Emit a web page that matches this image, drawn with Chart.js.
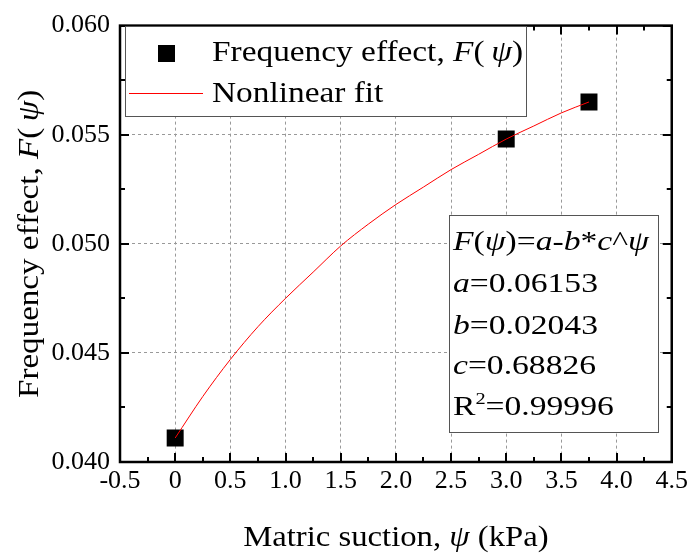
<!DOCTYPE html>
<html lang="en">
<head>
  <meta charset="UTF-8" />
  <title>Frequency effect vs matric suction</title>
  <script src="https://cdn.jsdelivr.net/npm/chart.js"></script>
  <style>
    html, body { margin: 0; padding: 0; background: #fff; font-family: "Liberation Serif", serif; }
    #wrap { width: 692px; height: 554px; }
    .preload { position: absolute; left: -999px; top: 0; }
  </style>
</head>
<body>
  <div id="wrap"><canvas id="chart" width="692" height="554"></canvas></div>
  <span class="preload">0.05 <i>F(ψ)</i></span>

  <script>
    // measured points
    const suction = [0, 3.0, 3.75];
    const freqEffect = [0.0411, 0.0548, 0.0565];

    // fit curve
    const fitX = [0, 0.25, 0.5, 0.75, 1.0, 1.25, 1.5, 1.75, 2.0, 2.25, 2.5, 2.75, 3.0, 3.25, 3.5, 3.75];
    const fitY = [0.0411, 0.0430, 0.0447, 0.0462, 0.0475, 0.0487, 0.0499, 0.0509, 0.0518, 0.0526, 0.0534, 0.0541, 0.0548, 0.0554, 0.0560, 0.0565];

    // fit parameter text; 1 = italic, 2 = superscript
    const fitText = [
      [['F', 1], ['(', 0], ['ψ', 1], [')=', 0], ['a', 1], ['-', 0], ['b', 1], ['*', 0], ['c', 1], ['^', 0], ['ψ', 1]],
      [['a', 1], ['=0.06153', 0]],
      [['b', 1], ['=0.02043', 0]],
      [['c', 1], ['=0.68826', 0]],
      [['R', 0], ['2', 2], ['=0.99996', 0]]
    ];

    const SERIF = '"Liberation Serif", "Times New Roman", serif';

    function fontFor(style, size) {
      if (style === 2) return Math.round(size * 0.62) + 'px ' + SERIF;
      return (style ? 'italic ' : '') + size + 'px ' + SERIF;
    }

    function runsWidth(ctx, runs, size) {
      let w = 0;
      for (const [t, s] of runs) { ctx.font = fontFor(s, size); w += ctx.measureText(t).width; }
      return w;
    }

    // draws text runs, stretched horizontally by sx
    function drawRuns(ctx, runs, x, y, size, sx) {
      ctx.save();
      ctx.translate(x, y);
      ctx.scale(sx, 1);
      ctx.textBaseline = 'middle';
      ctx.textAlign = 'left';
      let cx = 0;
      for (const [t, s] of runs) {
        ctx.font = fontFor(s, size);
        ctx.fillText(t, cx, s === 2 ? -size * 0.32 : 0);
        cx += ctx.measureText(t).width;
      }
      ctx.restore();
    }

    const decor = {
      id: 'decor',
      afterDatasetsDraw(chart) {
        const ctx = chart.ctx;
        const a = chart.chartArea;
        const xs = chart.scales.x, ys = chart.scales.y;
        ctx.save();
        ctx.fillStyle = '#000';
        ctx.strokeStyle = '#000';

        // inward ticks on all four sides
        ctx.lineWidth = 2;
        ctx.beginPath();
        for (let i = 0; i <= 20; i++) {
          const px = Math.round(xs.getPixelForValue(-0.5 + i * 0.25));
          const len = i % 2 === 0 ? 9 : 5;
          ctx.moveTo(px, a.bottom); ctx.lineTo(px, a.bottom - len);
          ctx.moveTo(px, a.top); ctx.lineTo(px, a.top + len);
        }
        for (let i = 0; i <= 8; i++) {
          const py = Math.round(ys.getPixelForValue(0.04 + i * 0.0025));
          const len = i % 2 === 0 ? 9 : 5;
          ctx.moveTo(a.left, py); ctx.lineTo(a.left + len, py);
          ctx.moveTo(a.right, py); ctx.lineTo(a.right - len, py);
        }
        ctx.stroke();
        ctx.lineWidth = 2.5;
        ctx.strokeRect(a.left, a.top, a.right - a.left, a.bottom - a.top);

        // legend
        ctx.fillStyle = '#fff';
        ctx.fillRect(125, 26, 401, 90);
        ctx.lineWidth = 1;
        ctx.strokeStyle = '#555';
        ctx.strokeRect(125.5, 26.5, 401, 90);
        ctx.fillStyle = '#000';
        ctx.fillRect(158, 45, 17, 17);
        ctx.strokeStyle = '#ff0000';
        ctx.beginPath();
        ctx.moveTo(129, 93.5); ctx.lineTo(203, 93.5);
        ctx.stroke();
        const legendRuns = [['Frequency effect, ', 0], ['F', 1], ['(\u2009', 0], ['ψ', 1], [')', 0]];
        drawRuns(ctx, legendRuns, 212, 53, 29, 1.15);
        drawRuns(ctx, [['Nonlinear fit', 0]], 212, 94, 29, 1.15);

        // fit parameters box
        ctx.fillStyle = '#fff';
        ctx.fillRect(449, 215, 209, 217);
        ctx.strokeStyle = '#555';
        ctx.strokeRect(449.5, 215.5, 209, 217);
        ctx.fillStyle = '#000';
        const rows = [243, 285, 327, 367, 408];
        fitText.forEach((r, i) => drawRuns(ctx, r, 453, rows[i], 28, 1.2));

        // axis titles
        const cx = (a.left + a.right) / 2;
        const xRuns = [['Matric suction, ', 0], ['ψ', 1], [' (kPa)', 0]];
        const xsx = 1.09;
        drawRuns(ctx, xRuns, cx - runsWidth(ctx, xRuns, 30) * xsx / 2, 538, 30, xsx);

        ctx.translate(30, (a.top + a.bottom) / 2);
        ctx.rotate(-Math.PI / 2);
        const ysx = 1.14;
        drawRuns(ctx, legendRuns, -runsWidth(ctx, legendRuns, 29) * ysx / 2, 0, 29, ysx);
        ctx.restore();
      }
    };

    const tickFont = { family: SERIF, size: 26 };

    function build() {
      new Chart(document.getElementById('chart'), {
        type: 'scatter',
        data: {
          datasets: [
            {
              label: 'Nonlinear fit',
              data: fitX.map((x, i) => ({ x: x, y: fitY[i] })),
              showLine: true,
              borderColor: '#ff0000',
              borderWidth: 1,
              pointRadius: 0,
              cubicInterpolationMode: 'monotone'
            },
            {
              label: 'Frequency effect, F(ψ)',
              data: suction.map((x, i) => ({ x: x, y: freqEffect[i] })),
              pointStyle: 'rect',
              pointRadius: 12,
              backgroundColor: '#000',
              borderColor: '#000',
              borderWidth: 0
            }
          ]
        },
        options: {
          responsive: false,
          animation: false,
          layout: { padding: { left: 0, right: 17, top: 21, bottom: 0 } },
          plugins: { legend: { display: false }, tooltip: { enabled: false } },
          scales: {
            x: {
              type: 'linear',
              min: -0.5,
              max: 4.5,
              afterFit: s => { s.height = 92; },
              afterBuildTicks: s => { s.ticks = []; for (let i = 0; i <= 10; i++) s.ticks.push({ value: -0.5 + i * 0.5 }); },
              ticks: {
                font: tickFont,
                color: '#000',
                padding: 4,
                maxRotation: 0,
                autoSkip: false,
                callback: v => Math.abs(v) < 1e-9 ? '0' : v.toFixed(1)
              },
              grid: { color: '#999', drawTicks: false },
              border: { display: false, dash: [3, 3] }
            },
            y: {
              min: 0.04,
              max: 0.06,
              afterFit: s => { s.width = 120; },
              afterBuildTicks: s => { s.ticks = []; for (let i = 0; i <= 4; i++) s.ticks.push({ value: 0.04 + i * 0.005 }); },
              ticks: {
                font: tickFont,
                color: '#000',
                padding: 10,
                autoSkip: false,
                callback: v => v.toFixed(3)
              },
              grid: { color: '#999', drawTicks: false },
              border: { display: false, dash: [3, 3] }
            }
          }
        },
        plugins: [decor]
      });
    }

    Promise.all([
      document.fonts.load('26px "Liberation Serif"'),
      document.fonts.load('italic 26px "Liberation Serif"')
    ]).then(build, build);
  </script>
</body>
</html>
